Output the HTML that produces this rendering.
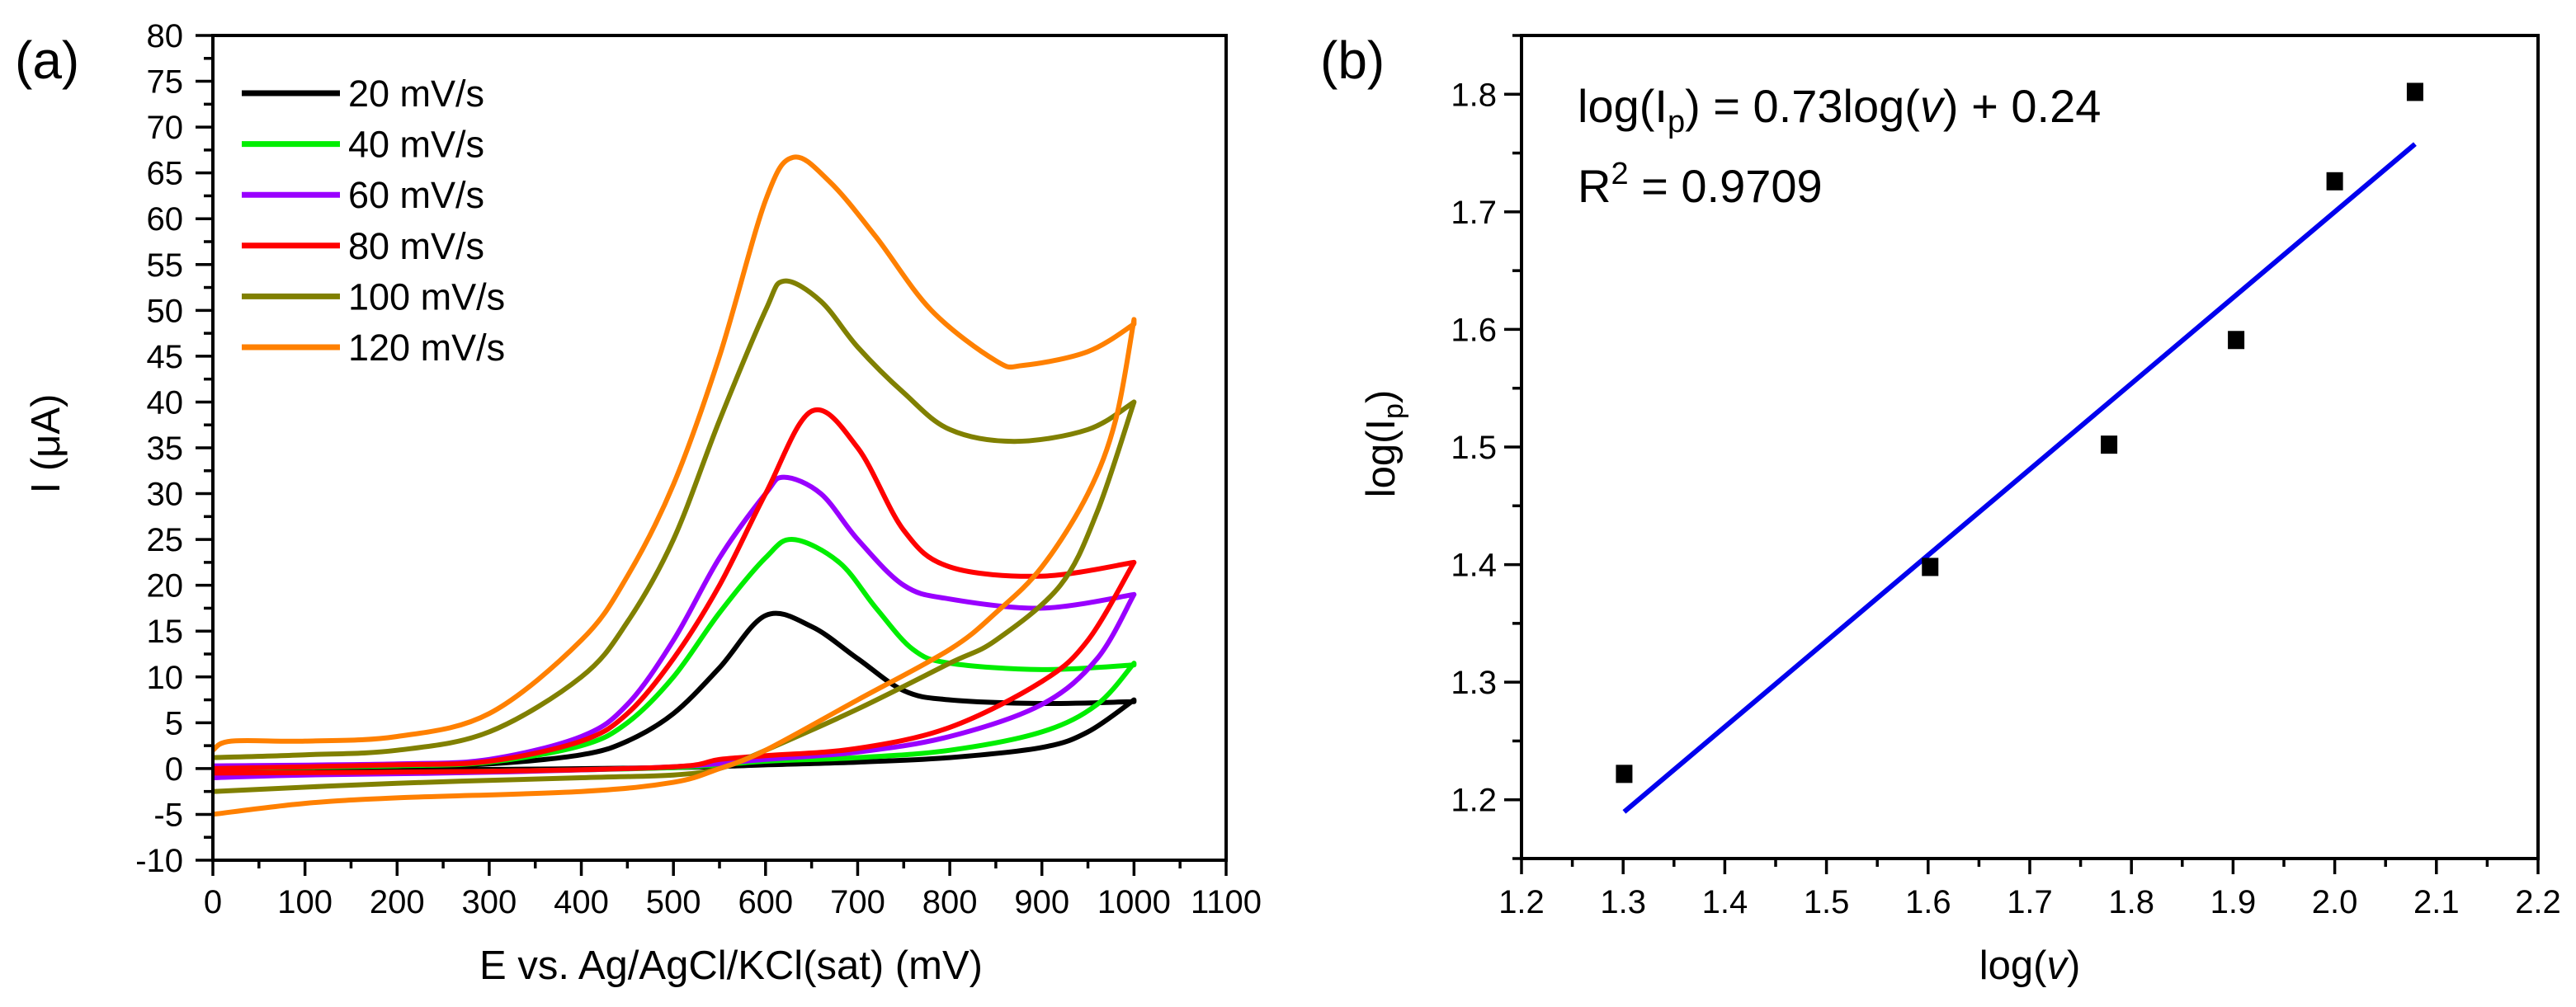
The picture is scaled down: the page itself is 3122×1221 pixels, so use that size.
<!DOCTYPE html>
<html><head><meta charset="utf-8"><style>
html,body{margin:0;padding:0;background:#fff}
svg{display:block}
text{font-family:"Liberation Sans",Arial,sans-serif;fill:#000}
</style></head><body>
<svg id="fig" width="3122" height="1221" viewBox="0 0 3122 1221" xmlns="http://www.w3.org/2000/svg">
<g id="pa"></g>
<g id="pb"></g>
</svg>
<script>
// ---- Panel (a) data ----
const cvLabels = ["20 mV/s","40 mV/s","60 mV/s","80 mV/s","100 mV/s","120 mV/s"];
const cvColors = ["#000000","#00ee00","#9900ff","#ff0000","#808000","#ff8000"];
const fwdE = [
 [0,200,300,400,450,500,550,600,650,700,750,800,900,1000],
 [0,200,300,400,450,500,550,600,630,680,720,760,800,900,1000],
 [0,200,300,400,450,500,550,600,620,660,700,750,800,900,1000],
 [0,200,300,400,450,500,550,600,650,700,750,800,900,1000],
 [0,100,200,300,400,450,500,550,600,620,660,700,750,800,870,950,1000],
 [0,20,100,200,300,400,450,500,550,600,630,670,720,780,850,880,950,1000]
];
const fwdI = [
 [0.2,0.3,0.5,1.5,3,6,11,16.7,15.5,12,8.5,7.5,7.1,7.3],
 [0,0.3,0.7,2.5,5,10,17,23,25,22.5,17.5,13,11.5,10.8,11.3],
 [0.3,0.5,1,3.5,7,14,23,30,31.8,30,25,20,18.5,17.5,19],
 [0,0.4,0.8,3,6,12,20,30,39,35,26,22,21,22.5],
 [1.2,1.5,2,4,10,16,25,38,50,53.2,51,46,41,37,35.7,37,40],
 [2,3,3,3.5,6,14,21,31,45,62,66.7,64,58,50,44.5,44,45.5,48.5]
];
const revE = [
 [1000,950,900,800,700,600,500,300,100,0],
 [1000,960,900,800,700,600,500,300,100,0],
 [1000,960,900,800,700,600,500,300,100,0],
 [1000,950,900,800,700,600,550,500,300,0],
 [1000,960,920,850,800,700,600,550,500,400,200,0],
 [1000,980,950,900,850,800,700,600,550,500,400,200,100,0]
];
const revI = [
 [7.5,4,2.3,1.2,0.7,0.4,0.1,-0.1,-0.2,-0.3],
 [11.5,7,4,2,1.2,0.8,0.1,-0.3,-0.5,-0.6],
 [19,12,7,3.5,1.8,1,0.2,-0.4,-0.7,-1],
 [22.5,14,9.5,4.5,2.2,1.4,1,0.2,-0.3,-0.5],
 [40,28,20,14,11.5,6.5,2,0,-0.7,-1,-1.6,-2.5],
 [49,38,30,22,17,13,7.5,2,0,-1.5,-2.5,-3.2,-3.8,-5]
];
const aXTicks = [0,100,200,300,400,500,600,700,800,900,1000,1100];
const aYTicks = [-10,-5,0,5,10,15,20,25,30,35,40,45,50,55,60,65,70,75,80];

// ---- Panel (b) data ----
const logV = [1.301,1.602,1.778,1.903,2.0,2.079];
const logIp = [1.222,1.398,1.502,1.591,1.726,1.802];
const fitSlope = 0.73, fitIntercept = 0.24;
const bXTicks = ["1.2","1.3","1.4","1.5","1.6","1.7","1.8","1.9","2.0","2.1","2.2"];
const bYTicks = ["1.2","1.3","1.4","1.5","1.6","1.7","1.8"];

const NS="http://www.w3.org/2000/svg";
function mk(parent,tag,attrs,txt){const e=document.createElementNS(NS,tag);for(const k in attrs)e.setAttribute(k,attrs[k]);if(txt!==undefined)e.textContent=txt;parent.appendChild(e);return e;}
function smooth(pts,move){let d=(move?"M":"L")+pts[0][0].toFixed(1)+","+pts[0][1].toFixed(1);for(let i=0;i<pts.length-1;i++){const p0=pts[Math.max(i-1,0)],p1=pts[i],p2=pts[i+1],p3=pts[Math.min(i+2,pts.length-1)];const c1=[p1[0]+(p2[0]-p0[0])/6,p1[1]+(p2[1]-p0[1])/6],c2=[p2[0]-(p3[0]-p1[0])/6,p2[1]-(p3[1]-p1[1])/6];d+="C"+c1[0].toFixed(1)+","+c1[1].toFixed(1)+" "+c2[0].toFixed(1)+","+c2[1].toFixed(1)+" "+p2[0].toFixed(1)+","+p2[1].toFixed(1);}return d;}

// ---------- Panel A ----------
const pa=document.getElementById('pa');
const AL=258,AR=1486,AT=43,AB=1043;
const ax=v=>AL+(v-0)/(1100-0)*(AR-AL);
const ay=v=>AB-(v-(-10))/(80-(-10))*(AB-AT);
let t;
t=mk(pa,'text',{x:18,y:95,'font-size':64});t.textContent="(a)";


// curves
for(let s=0;s<cvLabels.length;s++){
  const f=fwdE[s].map((e,i)=>[ax(e),ay(fwdI[s][i])]);
  const r=revE[s].map((e,i)=>[ax(e),ay(revI[s][i])]);
  const p=mk(pa,'path',{d:smooth(f,true)+smooth(r,false),fill:'none',stroke:cvColors[s],'stroke-width':6,'stroke-linejoin':'round'});
  
  
}
// axes frame
const fa=mk(pa,'rect',{x:AL,y:AT,width:AR-AL,height:AB-AT,fill:'none',stroke:'#000','stroke-width':4});


for(let v=-10;v<=80;v+=2.5){const major=(v%5===0);mk(pa,'line',{x1:AL,x2:AL-(major?21:11),y1:ay(v),y2:ay(v),stroke:'#000','stroke-width':3.5});}
aYTicks.forEach(v=>{const e=mk(pa,'text',{x:222,y:ay(v)+14,'font-size':40,'text-anchor':'end'},String(v));
  
  });
for(let v=0;v<=1100;v+=50){const major=(v%100===0);mk(pa,'line',{x1:ax(v),x2:ax(v),y1:AB,y2:AB+(major?19:10),stroke:'#000','stroke-width':3.5});}
aXTicks.forEach(v=>{const e=mk(pa,'text',{x:ax(v),y:1107,'font-size':40,'text-anchor':'middle'},String(v));
  
  });
t=mk(pa,'text',{x:886,y:1187,'font-size':49,'text-anchor':'middle'},"E vs. Ag/AgCl/KCl(sat) (mV)");


t=mk(pa,'text',{x:0,y:0,'font-size':49,'text-anchor':'middle',transform:'translate(72,538) rotate(-90)'},"I (\u03bcA)");


// legend
for(let s=0;s<cvLabels.length;s++){
  const y=113+s*61.6;
  const g=mk(pa,'g',{});
  
  
  mk(g,'line',{x1:293,x2:412,y1:y,y2:y,stroke:cvColors[s],'stroke-width':7});
  mk(g,'text',{x:422,y:y+16,'font-size':45},cvLabels[s]);
}

// ---------- Panel B ----------
const pb=document.getElementById('pb');
const BL=1844,BR=3076,BT=43,BB=1041;
const bx=v=>BL+(v-1.2)/(2.2-1.2)*(BR-BL);
const by=v=>BB-(v-1.15)/(1.85-1.15)*(BB-BT);
t=mk(pb,'text',{x:1600,y:95,'font-size':64},"(b)");


const x0=logV[0],x1=logV[logV.length-1];
const fl=mk(pb,'line',{x1:bx(x0),y1:by(fitSlope*x0+fitIntercept),x2:bx(x1),y2:by(fitSlope*x1+fitIntercept),stroke:'#0000ee','stroke-width':6});


logV.forEach((v,i)=>{const r=mk(pb,'rect',{x:bx(v)-10,y:by(logIp[i])-11,width:20,height:22,fill:'#000'});
  
  });
const fb=mk(pb,'rect',{x:BL,y:BT,width:BR-BL,height:BB-BT,fill:'none',stroke:'#000','stroke-width':4});


for(let k=0;k<=14;k++){const v=1.15+k*0.05;const major=(k%2===1);mk(pb,'line',{x1:BL,x2:BL-(major?21:11),y1:by(v),y2:by(v),stroke:'#000','stroke-width':3.5});}
bYTicks.forEach(s=>{const e=mk(pb,'text',{x:1814,y:by(parseFloat(s))+14,'font-size':40,'text-anchor':'end'},s);
  
  });
for(let k=0;k<=20;k++){const v=1.2+k*0.05;const major=(k%2===0);mk(pb,'line',{x1:bx(v),x2:bx(v),y1:BB,y2:BB+(major?19:10),stroke:'#000','stroke-width':3.5});}
bXTicks.forEach(s=>{const e=mk(pb,'text',{x:bx(parseFloat(s)),y:1107,'font-size':40,'text-anchor':'middle'},s);
  
  });
t=mk(pb,'text',{x:(BL+BR)/2,y:1187,'font-size':49,'text-anchor':'middle'});
t.innerHTML='log(<tspan font-style="italic">v</tspan>)';


t=mk(pb,'text',{x:0,y:0,'font-size':49,'text-anchor':'middle',transform:'translate(1690,538) rotate(-90)'});
t.innerHTML='log(I<tspan font-size="34" dy="10">p</tspan><tspan dy="-10">)</tspan>';


t=mk(pb,'text',{x:1912,y:148,'font-size':56});
t.innerHTML='log(I<tspan font-size="38" dy="12">p</tspan><tspan dy="-12">) = 0.73log(</tspan><tspan font-style="italic">v</tspan>) + 0.24';


t=mk(pb,'text',{x:1912,y:245,'font-size':56});
t.innerHTML='R<tspan font-size="38" dy="-22">2</tspan><tspan dy="22"> = 0.9709</tspan>';


</script>
</body></html>
